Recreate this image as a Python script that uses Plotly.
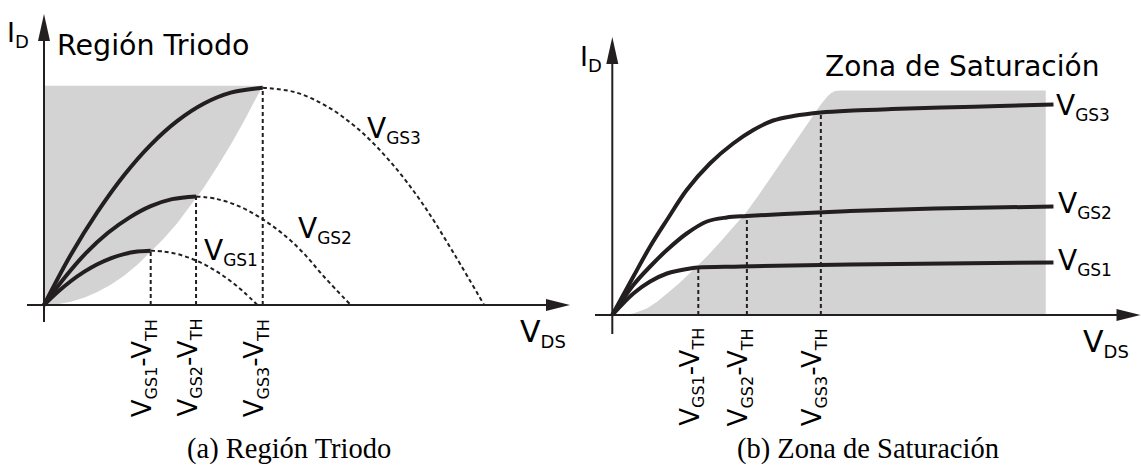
import plotly.graph_objects as go

W, H = 1141, 467
INK = "#231f20"
FILL = "#d3d3d3"
SANS = "DejaVu Sans"
SERIF = "Liberation Serif"

# ---------------- (a) Región Triodo ----------------
# solid (triode) part of each I_D(V_DS) curve
a1_vds = [0, 0.25, 0.5, 0.75, 1.0, 1.25, 1.5, 1.75, 2.0]
a1_id = [0, 0.234, 0.438, 0.609, 0.75, 0.859, 0.938, 0.984, 1.0]
a2_vds = [0, 0.4, 0.8, 1.2, 1.6, 2.0, 2.4, 2.85]
a2_id = [0, 0.52, 0.97, 1.33, 1.61, 1.82, 1.95, 2.0]
a3_vds = [0, 0.5, 1.0, 1.5, 2.0, 2.5, 3.0, 3.5, 4.1]
a3_id = [0, 0.92, 1.71, 2.39, 2.95, 3.39, 3.71, 3.91, 4.0]
# dashed continuation of the same parabolas
a1_ext_vds = [2.0, 2.25, 2.5, 2.75, 3.0, 3.25, 3.5, 3.75, 4.0]
a1_ext_id = [1.0, 0.984, 0.938, 0.859, 0.75, 0.609, 0.438, 0.234, 0]
a2_ext_vds = [2.85, 3.25, 3.65, 4.05, 4.45, 4.85, 5.25, 5.75]
a2_ext_id = [2.0, 1.95, 1.82, 1.61, 1.33, 0.97, 0.52, 0]
a3_ext_vds = [4.1, 4.7, 5.3, 5.9, 6.5, 7.1, 7.7, 8.25]
a3_ext_id = [4.0, 3.92, 3.66, 3.23, 2.63, 1.86, 0.92, 0]
# V_GS - V_TH for each curve
a_vov = [2.0, 2.85, 4.1]
a_peak = [1.0, 2.0, 4.0]
# shaded triode region (bounded by the pinch-off parabola)
a_reg_vds = [0, 0.25, 0.5, 0.75, 1.0, 1.25, 1.5, 1.75, 2.0, 2.25, 2.5, 2.75, 3.0,
             3.25, 3.5, 3.75, 4.1, 0, 0]
a_reg_id = [0, 0.015, 0.06, 0.135, 0.24, 0.375, 0.54, 0.74, 0.98, 1.23, 1.51, 1.83,
            2.17, 2.55, 2.95, 3.39, 4.04, 4.04, 0]

# ---------------- (b) Zona de Saturación ----------------
b1_vds = [0, 0.49, 0.88, 1.27, 1.55, 1.81, 2.0, 3.0, 5.53, 10.26]
b1_id = [0, 0.43, 0.67, 0.83, 0.89, 0.93, 0.95, 0.97, 1.01, 1.05]
b2_vds = [0, 0.49, 0.88, 1.27, 1.73, 2.20, 2.66, 3.13, 4.0, 5.53, 7.5, 10.26]
b2_id = [0, 0.60, 0.97, 1.30, 1.63, 1.87, 1.95, 1.98, 2.02, 2.08, 2.13, 2.17]
b3_vds = [0, 0.49, 0.88, 1.27, 1.73, 2.27, 2.81, 3.28, 3.74, 4.21, 4.85, 5.6, 6.5,
          7.67, 9.0, 10.26]
b3_id = [0, 0.77, 1.37, 1.90, 2.50, 3.03, 3.43, 3.70, 3.89, 3.98, 4.05, 4.09, 4.12,
         4.15, 4.18, 4.21]
b_vov = [2.0, 3.13, 4.85]
b_knee = [0.95, 1.98, 4.05]
b_reg_vds = [0, 0.25, 0.49, 0.8, 1.05, 1.26, 1.55, 1.88, 2.2, 2.51, 2.8, 3.12, 3.43,
             3.74, 4.05, 4.37, 4.6, 4.84, 5.0, 5.09, 5.18, 5.32, 10.08, 10.08, 0]
b_reg_id = [0, 0.005, 0.03, 0.13, 0.27, 0.42, 0.63, 0.90, 1.17, 1.46, 1.75, 2.06, 2.43,
            2.82, 3.22, 3.62, 3.91, 4.20, 4.37, 4.44, 4.48, 4.49, 4.49, 0, 0]

gs_names = ["GS1", "GS2", "GS3"]

# pixel geometry of the two panels (origin position and scale)
A_X0, A_Y0, A_SX, A_SY = 44.0, 305.0, 53.35, 54.3
B_X0, B_Y0, B_SX, B_SY = 612.3, 315.0, 43.0, 50.0
SPLIT = W / 2

fig = go.Figure()


def line(xs, ys, ax, width=4, dash="solid", shape="spline"):
    fig.add_trace(go.Scatter(
        x=xs, y=ys, mode="lines", xaxis=ax[0], yaxis=ax[1],
        line=dict(color=INK, width=width, dash=dash, shape=shape, smoothing=1.0),
        hoverinfo="skip", showlegend=False))


A = ("x", "y")
B = ("x2", "y2")

# shaded regions
fig.add_trace(go.Scatter(x=a_reg_vds, y=a_reg_id, mode="lines", fill="toself",
                         fillcolor=FILL, line=dict(width=0, color=FILL),
                         hoverinfo="skip", showlegend=False))
fig.add_trace(go.Scatter(x=b_reg_vds, y=b_reg_id, mode="lines", fill="toself",
                         fillcolor=FILL, line=dict(width=0, color=FILL),
                         xaxis="x2", yaxis="y2", hoverinfo="skip", showlegend=False))

DASH = "4px,3px"
# dashed continuations and V_GS - V_TH markers
for xs, ys in [(a1_ext_vds, a1_ext_id), (a2_ext_vds, a2_ext_id), (a3_ext_vds, a3_ext_id)]:
    line(xs, ys, A, width=2, dash=DASH)
for v, p in zip(a_vov, a_peak):
    line([v, v], [0, p], A, width=2, dash=DASH, shape="linear")
for v, p in zip(b_vov, b_knee):
    line([v, v], [0, p], B, width=2, dash=DASH, shape="linear")

# solid curves
for xs, ys in [(a1_vds, a1_id), (a2_vds, a2_id), (a3_vds, a3_id)]:
    line(xs, ys, A)
for xs, ys in [(b1_vds, b1_id), (b2_vds, b2_id), (b3_vds, b3_id)]:
    line(xs, ys, B)

# axes drawn as lines with arrowheads
shapes = []


def axis_arrow(xref, yref, x0, y0, x1, y1, tipx, tipy, path):
    shapes.append(dict(type="line", xref=xref, yref=yref, x0=x0, y0=y0, x1=x1, y1=y1,
                       line=dict(color=INK, width=2)))
    shapes.append(dict(type="path", xref=xref, yref=yref, xsizemode="pixel",
                       ysizemode="pixel", xanchor=tipx, yanchor=tipy, path=path,
                       fillcolor=INK, line=dict(width=0)))


RIGHT_HEAD = "M0,0 L-24,6 L-24,-6 Z"
UP_HEAD = "M0,0 L-6,-27 L6,-27 Z"
# panel (a)
axis_arrow("x", "y", (27 - A_X0) / A_SX, 0, (560 - A_X0) / A_SX, 0,
           (570 - A_X0) / A_SX, 0, RIGHT_HEAD)
axis_arrow("x", "y", 0, (A_Y0 - 322) / A_SY, 0, (A_Y0 - 25) / A_SY,
           0, (A_Y0 - 14) / A_SY, UP_HEAD)
# panel (b)
axis_arrow("x2", "y2", (595 - B_X0) / B_SX, 0, (1130 - B_X0) / B_SX, 0,
           (1140.5 - B_X0) / B_SX, 0, RIGHT_HEAD)
axis_arrow("x2", "y2", 0, (B_Y0 - 334) / B_SY, 0, (B_Y0 - 48) / B_SY,
           0, (B_Y0 - 37) / B_SY, UP_HEAD)

annotations = []


def sub(text, size):
    return f"<sub><span style='font-size:{size}px'>{text}</span></sub>"


def label(text, xpx, ypx, size=28, family=SANS, xanchor="left", yanchor="top"):
    annotations.append(dict(text=text, x=xpx / W, y=1 - ypx / H, xref="paper", yref="paper",
                            xanchor=xanchor, yanchor=yanchor, showarrow=False,
                            borderpad=0, borderwidth=0,
                            font=dict(family=family, size=size, color="#000")))


# axis names
label("I" + sub("D", 18), 7, 17, size=27)
label("I" + sub("D", 18), 580, 41, size=27)
label("V" + sub("DS", 18), 520, 314, size=30)
label("V" + sub("DS", 18), 1083, 324, size=30)

# titles
label("Región Triodo", 57, 45, size=28.5, yanchor="middle")
label("Zona de Saturación", 825, 67, size=28, yanchor="middle")

# curve names
for name, (xp, yp) in zip(gs_names, [(204, 234), (298, 212), (367, 112)]):
    label("V" + sub(name, 17), xp, yp, size=28)
for name, (xp, yp) in zip(gs_names, [(1058, 244), (1058, 187), (1056, 89)]):
    label("V" + sub(name, 17), xp, yp, size=28)

# rotated V_GS - V_TH labels under the x axis
for xref, yref, vovs, ysh in [("x", "y", a_vov, -14), ("x2", "y2", b_vov, -13)]:
    for name, v in zip(gs_names, vovs):
        annotations.append(dict(
            text="V" + sub(name, 16) + "-V" + sub("TH", 16),
            x=v, y=0, xref=xref, yref=yref, textangle=-90,
            xanchor="left", yanchor="top", xshift=-24, yshift=ysh,
            showarrow=False, borderpad=0, borderwidth=0,
            font=dict(family=SANS, size=26, color="#000")))

# captions
label("(a) Región Triodo", 289, 449, size=28.5, family=SERIF, xanchor="center", yanchor="middle")
label("(b) Zona de Saturación", 868, 449, size=28.5, family=SERIF, xanchor="center", yanchor="middle")

hidden = dict(visible=False, fixedrange=True)
fig.update_layout(
    width=W, height=H, margin=dict(l=0, r=0, t=0, b=0),
    paper_bgcolor="white", plot_bgcolor="rgba(0,0,0,0)",
    xaxis=dict(domain=[0, 0.5], range=[-A_X0 / A_SX, (SPLIT - A_X0) / A_SX], **hidden),
    yaxis=dict(domain=[0, 1], range=[-(H - A_Y0) / A_SY, A_Y0 / A_SY], **hidden),
    xaxis2=dict(domain=[0.5, 1], range=[-(B_X0 - SPLIT) / B_SX, (W - B_X0) / B_SX],
                anchor="y2", **hidden),
    yaxis2=dict(domain=[0, 1], range=[-(H - B_Y0) / B_SY, B_Y0 / B_SY], anchor="x2", **hidden),
    shapes=shapes, annotations=annotations, showlegend=False,
)

fig.write_html("out.html", config={"displayModeBar": False})
